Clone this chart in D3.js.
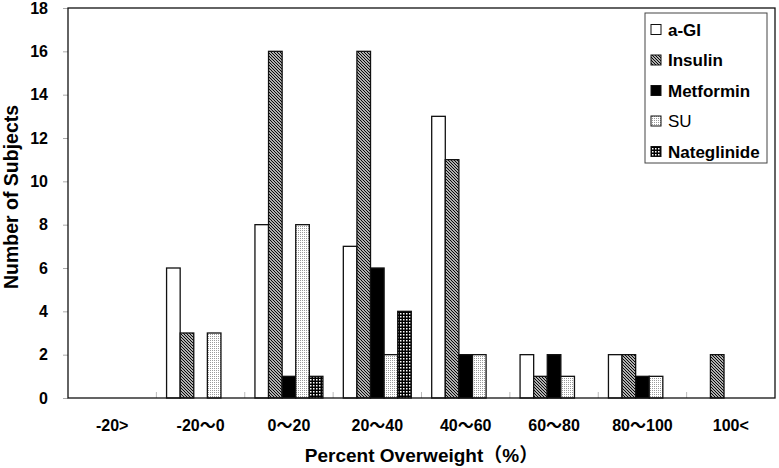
<!DOCTYPE html>
<html>
<head>
<meta charset="utf-8">
<script src="https://cdn.jsdelivr.net/npm/d3@7"></script>
<style>
  body { margin: 0; background: #fff; }
  svg { display: block; }
  text { font-family: "Liberation Sans", Arial, "Noto Sans CJK JP", sans-serif; font-weight: bold; fill: #000; }
</style>
</head>
<body>
<svg id="chart" width="779" height="468"></svg>
<script>
const categories = ["-20>", "-20～0", "0～20", "20～40", "40～60", "60～80", "80～100", "100<"];
const seriesNames = ["a-GI", "Insulin", "Metformin", "SU", "Nateglinide"];
const aGI        = [0, 6, 8, 7, 13, 2, 2, 0];
const insulin    = [0, 3, 16, 16, 11, 1, 2, 2];
const metformin  = [0, 0, 1, 6, 2, 2, 1, 0];
const su         = [0, 3, 8, 2, 2, 1, 1, 0];
const nateglinide= [0, 0, 1, 4, 0, 0, 0, 0];
const yTicks = [0, 2, 4, 6, 8, 10, 12, 14, 16, 18];
const xTitle = "Percent Overweight（%）";
const yTitle = "Number of Subjects";

const seriesValues = [aGI, insulin, metformin, su, nateglinide];
const fills = ["#fff", "url(#pInsulin)", "#000", "url(#pSU)", "url(#pNate)"];

const svg = d3.select("#chart");
const margin = {left: 68, right: 4, top: 8, bottom: 70};
const W = 779, H = 468;
const x0 = margin.left, x1 = W - margin.right, y0 = H - margin.bottom, y1 = margin.top;

// patterns
const defs = svg.append("defs");
const pI = defs.append("pattern").attr("id", "pInsulin").attr("patternUnits", "userSpaceOnUse")
  .attr("width", 3).attr("height", 3);
pI.append("rect").attr("width", 3).attr("height", 3).attr("fill", "#fff");
pI.append("path").attr("d", "M-1,-1L4,4M-1,2L1,4M2,-1L4,1").attr("stroke", "#000").attr("stroke-width", 1.2);

const pS = defs.append("pattern").attr("id", "pSU").attr("patternUnits", "userSpaceOnUse")
  .attr("width", 2).attr("height", 2);
pS.append("rect").attr("width", 2).attr("height", 2).attr("fill", "#fff");
pS.append("rect").attr("width", 1).attr("height", 1).attr("fill", "#9a9a9a");

const pN = defs.append("pattern").attr("id", "pNate").attr("patternUnits", "userSpaceOnUse")
  .attr("width", 3).attr("height", 3);
pN.append("rect").attr("width", 3).attr("height", 3).attr("fill", "#000");
pN.append("rect").attr("x", 1).attr("y", 1).attr("width", 1.5).attr("height", 1.5).attr("fill", "#fff");

const x = d3.scaleBand().domain(categories).range([x0, x1]).padding(0);
const xs = d3.scaleBand().domain(seriesNames).range([0, x.bandwidth()]).paddingInner(0).paddingOuter(0.75);
const y = d3.scaleLinear().domain([0, 18]).range([y0, y1]);

// bars
seriesNames.forEach((s, si) => {
  svg.append("g").selectAll("rect")
    .data(categories.map((c, i) => ({c, v: seriesValues[si][i]})).filter(d => d.v > 0))
    .join("rect")
    .attr("x", d => x(d.c) + xs(s))
    .attr("y", d => y(d.v))
    .attr("width", xs.bandwidth())
    .attr("height", d => y(0) - y(d.v))
    .attr("fill", fills[si])
    .attr("stroke", "#111")
    .attr("stroke-width", 1.3);
});

// x boundary minor ticks
svg.append("g").selectAll("line")
  .data(categories.slice(1))
  .join("line")
  .attr("x1", d => x(d)).attr("x2", d => x(d))
  .attr("y1", y0).attr("y2", y0 - 6)
  .attr("stroke", "#bbb").attr("stroke-width", 1);

// y axis
const yAxis = svg.append("g").attr("transform", `translate(${x0},0)`)
  .call(d3.axisLeft(y).tickValues(yTicks).tickSize(5).tickPadding(15));
yAxis.select(".domain").remove();
yAxis.selectAll(".tick line").attr("stroke", "#aaa");
yAxis.selectAll(".tick text").style("font-size", "16px").style("font-weight", "bold");

// x axis labels
const xAxis = svg.append("g").attr("transform", `translate(0,${y0})`)
  .call(d3.axisBottom(x).tickSize(0).tickPadding(21.5));
xAxis.select(".domain").remove();
xAxis.selectAll(".tick text").style("font-size", "16px").style("font-weight", "bold");

// frame
svg.append("rect").attr("x", x0).attr("y", y1).attr("width", x1 - x0).attr("height", y0 - y1)
  .attr("fill", "none").attr("stroke", "#111").attr("stroke-width", 1.3);

// titles
svg.append("text").attr("x", (x0 + x1) / 2).attr("y", 462).attr("text-anchor", "middle")
  .style("font-size", "19px").text(xTitle);
svg.append("text").attr("transform", `translate(17.5,${(y0 + y1) / 2 - 6}) rotate(-90)`)
  .attr("text-anchor", "middle").style("font-size", "19.5px").text(yTitle);

// legend
const lg = svg.append("g");
lg.append("rect").attr("x", 645).attr("y", 13).attr("width", 122).attr("height", 150)
  .attr("fill", "#fff").attr("stroke", "#444").attr("stroke-width", 1);
seriesNames.forEach((s, i) => {
  const cy = 29.5 + i * 30.5;
  lg.append("rect").attr("x", 651).attr("y", cy - 5).attr("width", 10).attr("height", 10)
    .attr("fill", fills[i]).attr("stroke", "#111").attr("stroke-width", 1);
  lg.append("text").attr("x", 668).attr("y", cy).attr("dy", "0.36em")
    .style("font-size", "17px").style("font-weight", s === "SU" ? "normal" : "bold").text(s);
});
</script>
</body>
</html>
